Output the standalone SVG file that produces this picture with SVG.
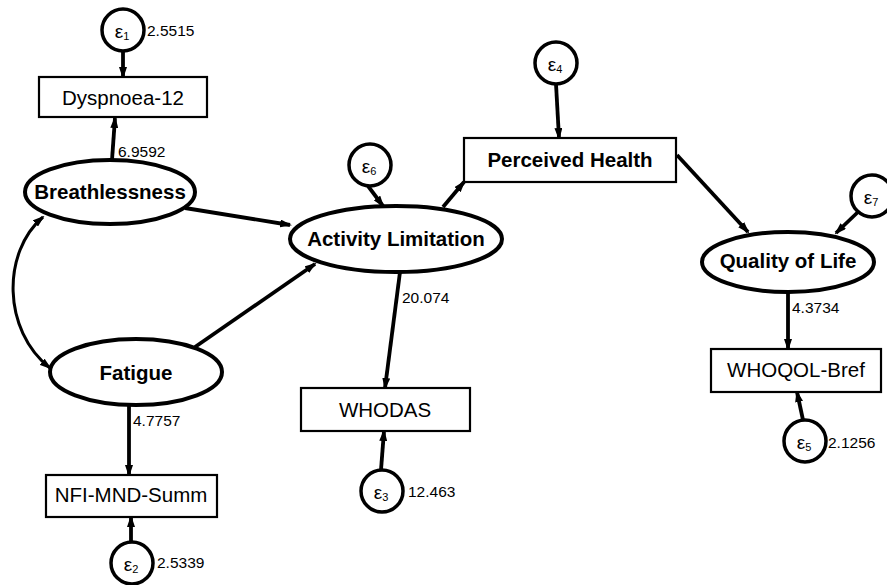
<svg xmlns="http://www.w3.org/2000/svg" width="887" height="585" viewBox="0 0 887 585">
<style>
text{font-family:"Liberation Sans",Arial,sans-serif;fill:#000}
.lbl{font-size:20.5px;text-anchor:middle}
.bold{font-weight:bold}
.num{font-size:15.5px}
.eps{font-size:19px;text-anchor:middle}
.sub{font-size:11px}
.box{fill:#fff;stroke:#000;stroke-width:2.2}
.ell{fill:#fff;stroke:#000;stroke-width:4}
.err{fill:#fff;stroke:#000;stroke-width:3.5}
.conn line,.conn path{stroke:#000;stroke-width:3.8;fill:none}
.conn line{marker-end:url(#arr)}
.conn path{stroke-width:3}
</style>
<defs>
<marker id="arr" markerUnits="userSpaceOnUse" viewBox="0 0 12 8" markerWidth="12" markerHeight="8" refX="10" refY="4" orient="auto">
<path d="M0,0 L12,4 L0,8 z" fill="#000"/>
</marker>
<marker id="arr2" markerUnits="userSpaceOnUse" viewBox="0 0 12 8" markerWidth="12" markerHeight="8" refX="10" refY="4" orient="auto-start-reverse">
<path d="M0,0 L12,4 L0,8 z" fill="#000"/>
</marker>
</defs>
<g id="connectors" class="conn">
<line x1="123" y1="51" x2="123" y2="77"/>
<line x1="112" y1="160" x2="115" y2="118"/>
<line x1="185" y1="208" x2="290" y2="225"/>
<line x1="195" y1="347" x2="315" y2="264"/>
<line x1="368" y1="186" x2="383" y2="206"/>
<line x1="443" y1="207" x2="464" y2="182"/>
<line x1="556" y1="84" x2="559" y2="138"/>
<line x1="677" y1="155" x2="748" y2="232"/>
<line x1="858" y1="212" x2="836" y2="233"/>
<line x1="788" y1="292" x2="788" y2="349"/>
<line x1="803" y1="420" x2="797" y2="392"/>
<line x1="400" y1="272" x2="385" y2="388"/>
<line x1="381" y1="470" x2="384" y2="431"/>
<line x1="129" y1="405" x2="129" y2="475"/>
<line x1="131" y1="542" x2="131" y2="517"/>
<path d="M43,217 C2,252 2,330 50,368" marker-start="url(#arr2)" marker-end="url(#arr2)"/>
</g>
<g id="e1"><circle class="err" cx="123" cy="30" r="21"/><text class="eps" x="122" y="38">ε<tspan class="sub" dy="2">1</tspan></text></g>
<text class="num" x="147" y="36">2.5515</text>
<g id="dyspnoea"><rect class="box" x="39" y="77" width="168" height="40"/><text class="lbl" x="123" y="105">Dyspnoea-12</text></g>
<text class="num" x="118" y="157">6.9592</text>
<g id="breathlessness"><ellipse class="ell" cx="110" cy="192" rx="85" ry="32"/><text class="lbl bold" x="110" y="199">Breathlessness</text></g>
<g id="fatigue"><ellipse class="ell" cx="136" cy="372" rx="86" ry="33"/><text class="lbl bold" x="136" y="380">Fatigue</text></g>
<text class="num" x="133" y="426">4.7757</text>
<g id="nfi"><rect class="box" x="46" y="475" width="171" height="42"/><text class="lbl" x="131" y="502">NFI-MND-Summ</text></g>
<g id="e2"><circle class="err" cx="132" cy="563" r="21"/><text class="eps" x="131" y="571">ε<tspan class="sub" dy="2">2</tspan></text></g>
<text class="num" x="157" y="568">2.5339</text>
<g id="e6"><circle class="err" cx="370" cy="165" r="21"/><text class="eps" x="369" y="173">ε<tspan class="sub" dy="2">6</tspan></text></g>
<g id="activity"><ellipse class="ell" cx="396" cy="239" rx="106" ry="33"/><text class="lbl bold" x="396" y="246">Activity Limitation</text></g>
<text class="num" x="402" y="303">20.074</text>
<g id="whodas"><rect class="box" x="301" y="388" width="169" height="43"/><text class="lbl" x="385" y="417">WHODAS</text></g>
<g id="e3"><circle class="err" cx="382" cy="491" r="21"/><text class="eps" x="381" y="499">ε<tspan class="sub" dy="2">3</tspan></text></g>
<text class="num" x="408" y="497">12.463</text>
<g id="e4"><circle class="err" cx="556" cy="63" r="21"/><text class="eps" x="555" y="71">ε<tspan class="sub" dy="2">4</tspan></text></g>
<g id="perceived"><rect class="box" x="464" y="138" width="212" height="44"/><text class="lbl bold" x="570" y="167">Perceived Health</text></g>
<g id="e7"><circle class="err" cx="872" cy="196" r="21"/><text class="eps" x="871" y="204">ε<tspan class="sub" dy="2">7</tspan></text></g>
<g id="qol"><ellipse class="ell" cx="788" cy="262" rx="86" ry="30"/><text class="lbl bold" x="788" y="268">Quality of Life</text></g>
<text class="num" x="792" y="313">4.3734</text>
<g id="whoqol"><rect class="box" x="711" y="349" width="170" height="43"/><text class="lbl" x="796" y="377">WHOQOL-Bref</text></g>
<g id="e5"><circle class="err" cx="805" cy="441" r="21"/><text class="eps" x="804" y="449">ε<tspan class="sub" dy="2">5</tspan></text></g>
<text class="num" x="828" y="448">2.1256</text>
</svg>
